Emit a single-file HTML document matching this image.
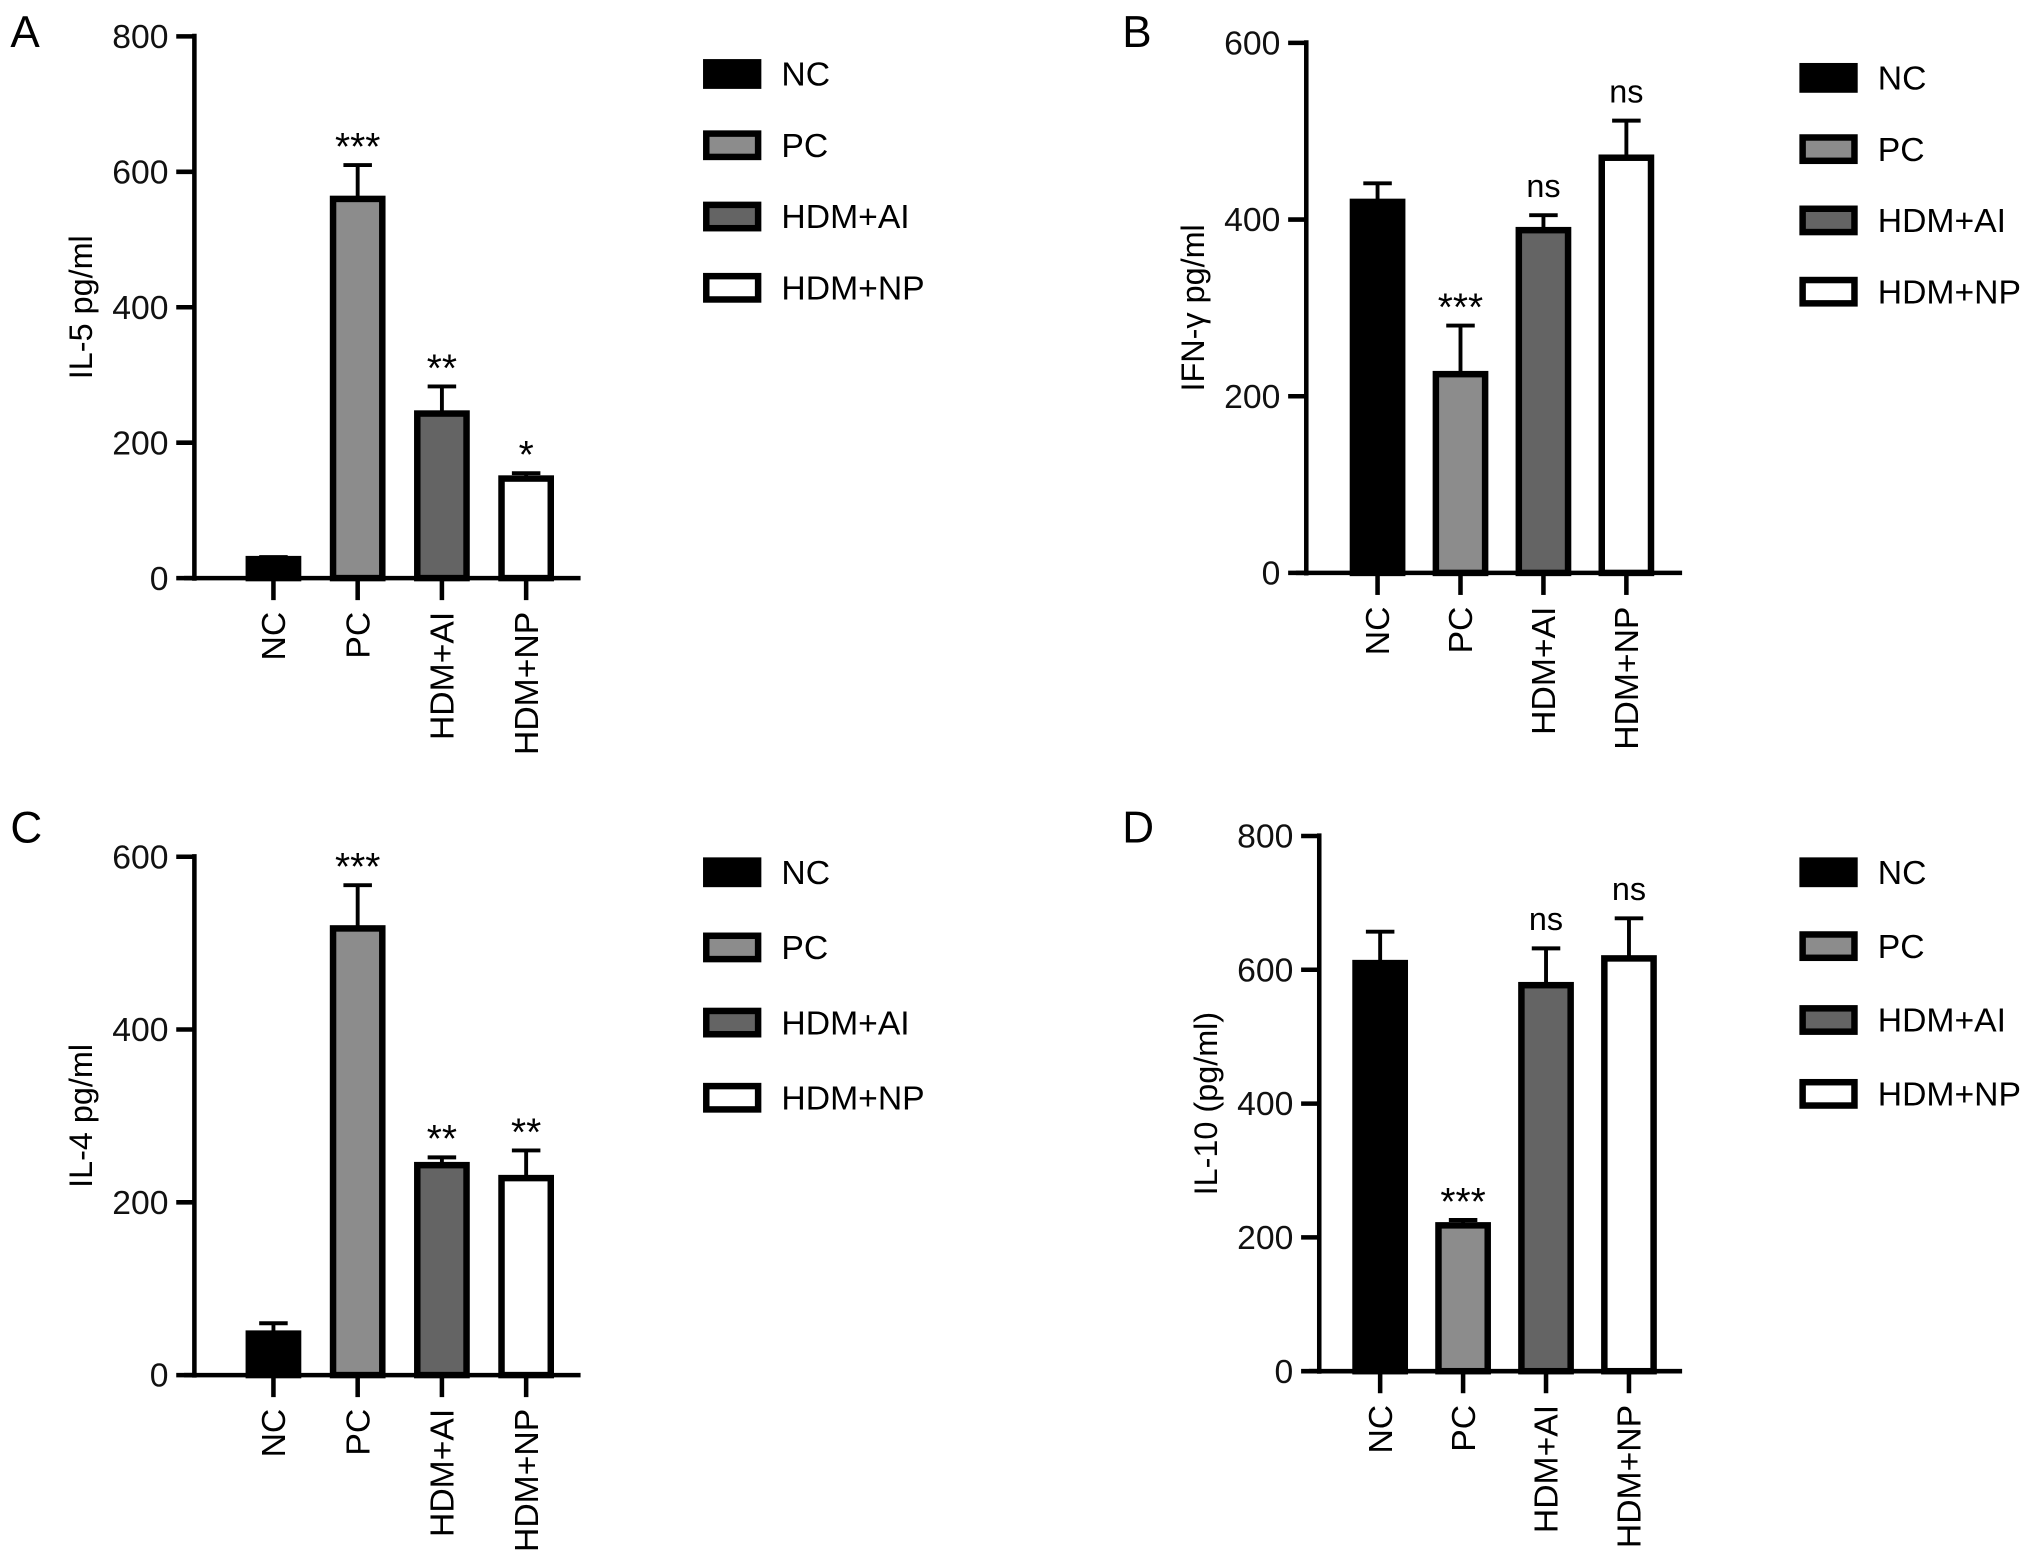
<!DOCTYPE html>
<html><head><meta charset="utf-8"><style>
html,body{margin:0;padding:0;background:#fff;}
svg{display:block;font-family:"Liberation Sans",Arial,sans-serif;}
</style></head><body>
<svg id="fig" width="2032" height="1567" viewBox="0 0 1568 1209" xmlns="http://www.w3.org/2000/svg"></svg>
<script>
const categories = ["NC","PC","HDM+AI","HDM+NP"];
const fills = ["#000000","#8c8c8c","#646464","#ffffff"];
const aValues = [28, 560, 243, 147];
const aErrors = [3, 50, 40, 8];
const aSig = ["", "***", "**", "*"];
const aTicks = [0, 200, 400, 600, 800];
const bValues = [420, 225, 388, 470];
const bErrors = [21, 55, 17, 42];
const bSig = ["", "***", "ns", "ns"];
const bTicks = [0, 200, 400, 600];
const cValues = [48, 517, 243, 228];
const cErrors = [12, 50, 9, 32];
const cSig = ["", "***", "**", "**"];
const cTicks = [0, 200, 400, 600];
const dValues = [610, 218, 577, 617];
const dErrors = [47, 8, 55, 60];
const dSig = ["", "***", "ns", "ns"];
const dTicks = [0, 200, 400, 600, 800];

const NS = "http://www.w3.org/2000/svg";
const svg = document.getElementById("fig");
function mk(tag, attrs, parent, text){
  const e = document.createElementNS(NS, tag);
  for (const k in attrs) e.setAttribute(k, attrs[k]);
  if (text !== undefined) e.textContent = text;
  (parent||svg).appendChild(e);
  return e;
}
function panel(cfg){
  const g = mk("g", {});
  
  
  const max = cfg.ticks[cfg.ticks.length-1];
  const y = v => cfg.y0 - (v/max)*(cfg.y0 - cfg.yTop);
  const xc = i => cfg.x0 + cfg.first + i*cfg.step;
  const lt = mk("text",{x:cfg.lx,y:cfg.ly,"font-size":34},g,cfg.letter);
  
  
  const ya = mk("line",{x1:cfg.x0,y1:cfg.yTop-2,x2:cfg.x0,y2:cfg.y0+2,stroke:"#000","stroke-width":3.5},g);
  
  
  cfg.ticks.forEach(t=>{
    const tl = mk("line",{x1:cfg.x0-14,y1:y(t),x2:cfg.x0,y2:y(t),stroke:"#000","stroke-width":3.5},g);
    
    
    const tx = mk("text",{x:cfg.x0-20,y:y(t)+9,"font-size":26,"text-anchor":"end",fill:"#111"},g,String(t));
    
    
  });
  const ty = (cfg.y0+cfg.yTop)/2;
  const yt = mk("text",{x:0,y:0,"font-size":25,"text-anchor":"middle",transform:`translate(${cfg.x0-79},${ty}) rotate(-90)`},g,cfg.title);
  
  
  const xa = mk("line",{x1:cfg.x0-8,y1:cfg.y0,x2:cfg.x0+cfg.xLen,y2:cfg.y0,stroke:"#000","stroke-width":3.5},g);
  
  
  cfg.values.forEach((v,i)=>{
    const cx = xc(i), bw = 38;
    const top = y(v+cfg.errors[i]);
    const el = mk("line",{x1:cx,y1:top,x2:cx,y2:y(v),stroke:"#000","stroke-width":3},g);
    
    
    const ec = mk("line",{x1:cx-11,y1:top,x2:cx+11,y2:top,stroke:"#000","stroke-width":3},g);
    
    
    const r = mk("rect",{x:cx-bw/2,y:y(v),width:bw,height:cfg.y0-y(v),fill:fills[i],stroke:"#000","stroke-width":5},g);
    
    
    if (cfg.sig[i]) {
      const isStar = cfg.sig[i][0]==="*";
      const s = mk("text",{x:cx,y:top-(isStar?4:14),"font-size":isStar?30:25,"text-anchor":"middle"},g,cfg.sig[i]);
      
      
    }
    const tk = mk("line",{x1:cx,y1:cfg.y0,x2:cx,y2:cfg.y0+17,stroke:"#000","stroke-width":3.5},g);
    
    
    const xl = mk("text",{x:0,y:0,"font-size":26,"text-anchor":"end",transform:`translate(${cx+9},${cfg.y0+26}) rotate(-90)`},g,categories[i]);
    
    
  });
  categories.forEach((c,i)=>{
    const cy = cfg.legY + i*cfg.legStep;
    const sw = mk("rect",{x:cfg.legX+2,y:cy-9,width:40,height:18,fill:fills[i],stroke:"#000","stroke-width":5},g);
    
    
    const lt2 = mk("text",{x:cfg.legX+60,y:cy+9,"font-size":26},g,c);
    
    
  });
}
panel({letter:"A",lx:8,ly:36,x0:150,yTop:28,y0:446,xLen:298,first:61,step:65,ticks:aTicks,values:aValues,errors:aErrors,sig:aSig,title:"IL-5 pg/ml",legX:543,legY:57,legStep:55});
panel({letter:"B",lx:866,ly:36,x0:1008,yTop:33,y0:442,xLen:290,first:55,step:64,ticks:bTicks,values:bValues,errors:bErrors,sig:bSig,title:"IFN-γ pg/ml",legX:1389,legY:60,legStep:55});
panel({letter:"C",lx:8,ly:650,x0:150,yTop:661,y0:1061,xLen:298,first:61,step:65,ticks:cTicks,values:cValues,errors:cErrors,sig:cSig,title:"IL-4 pg/ml",legX:543,legY:673,legStep:58});
panel({letter:"D",lx:866,ly:650,x0:1018,yTop:645,y0:1058,xLen:280,first:47,step:64,ticks:dTicks,values:dValues,errors:dErrors,sig:dSig,title:"IL-10 (pg/ml)",legX:1389,legY:673,legStep:57});
</script>
</body></html>
